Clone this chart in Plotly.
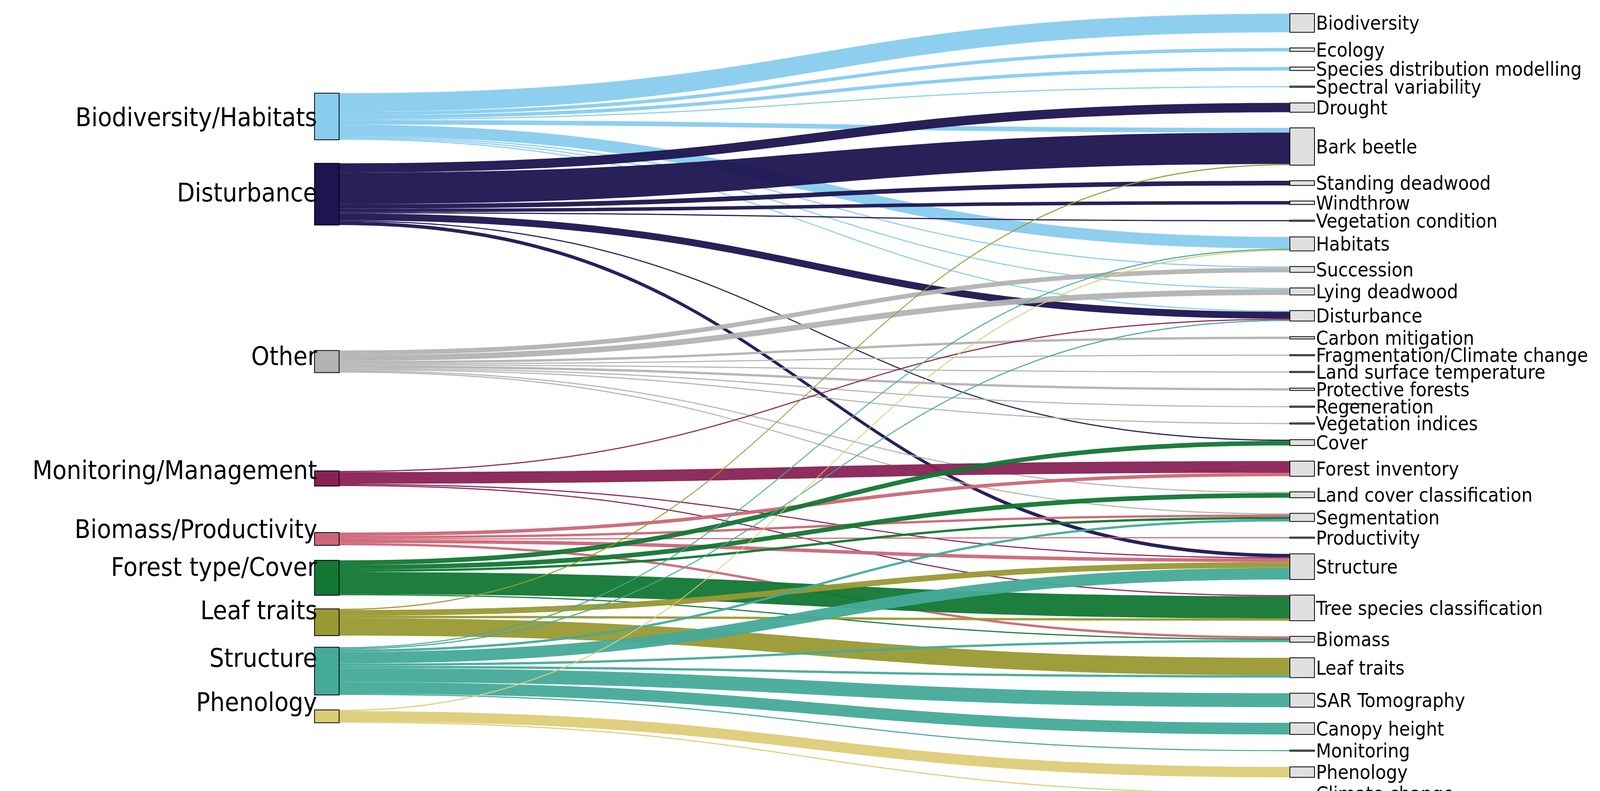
import plotly.graph_objects as go

# ---------- data ----------
left_nodes = ["Biodiversity/Habitats", "Disturbance", "Other", "Monitoring/Management",
              "Biomass/Productivity", "Forest type/Cover", "Leaf traits", "Structure", "Phenology"]
left_colors = ["#88CCEE", "#1E1450", "#B3B3B3", "#882255", "#CC6677",
               "#117733", "#999933", "#44AA99", "#DDCC77"]

right_nodes = ["Biodiversity", "Ecology", "Species distribution modelling", "Spectral variability",
               "Drought", "Bark beetle", "Standing deadwood", "Windthrow", "Vegetation condition",
               "Habitats", "Succession", "Lying deadwood", "Disturbance", "Carbon mitigation",
               "Fragmentation/Climate change", "Land surface temperature", "Protective forests",
               "Regeneration", "Vegetation indices", "Cover", "Forest inventory",
               "Land cover classification", "Segmentation", "Productivity", "Structure",
               "Tree species classification", "Biomass", "Leaf traits", "SAR Tomography",
               "Canopy height", "Monitoring", "Phenology", "Climate change"]

link_source = [
    "Biodiversity/Habitats"] * 9 + [
    "Disturbance"] * 8 + [
    "Other"] * 10 + [
    "Monitoring/Management"] * 4 + [
    "Biomass/Productivity"] * 5 + [
    "Forest type/Cover"] * 5 + [
    "Leaf traits"] * 4 + [
    "Structure"] * 9 + [
    "Phenology"] * 3
link_target = [
    # Biodiversity/Habitats
    "Biodiversity", "Ecology", "Species distribution modelling", "Spectral variability",
    "Bark beetle", "Habitats", "Succession", "Lying deadwood", "Disturbance",
    # Disturbance
    "Drought", "Bark beetle", "Standing deadwood", "Windthrow", "Vegetation condition",
    "Disturbance", "Cover", "Structure",
    # Other
    "Succession", "Lying deadwood", "Carbon mitigation", "Fragmentation/Climate change",
    "Land surface temperature", "Protective forests", "Regeneration", "Vegetation indices",
    "Land cover classification", "Segmentation",
    # Monitoring/Management
    "Disturbance", "Forest inventory", "Structure", "Tree species classification",
    # Biomass/Productivity
    "Forest inventory", "Segmentation", "Productivity", "Structure", "Biomass",
    # Forest type/Cover
    "Cover", "Land cover classification", "Segmentation", "Tree species classification", "Biomass",
    # Leaf traits
    "Bark beetle", "Structure", "Tree species classification", "Leaf traits",
    # Structure
    "Habitats", "Disturbance", "Segmentation", "Structure", "Biomass", "Leaf traits",
    "SAR Tomography", "Canopy height", "Monitoring",
    # Phenology
    "Habitats", "Phenology", "Climate change",
]
link_value = [
    16, 3, 3, 1, 4, 10, 1, 1, 1,
    8, 27, 4, 3, 1, 6, 1, 3,
    4, 5, 2, 1, 1, 2, 1, 1, 1, 1,
    1, 10, 1, 1,
    3, 2, 1, 3, 2,
    4, 4, 2, 19, 1,
    1, 5, 2, 15,
    1, 1, 2, 10, 2, 2, 12, 10, 1,
    1, 9, 1,
]

# ---------- layout helpers ----------
W, H = 4233, 2026
top_in, span_in = 27, 1999
pad = 40
FONT = "DejaVu Sans Condensed, DejaVu Sans"

nL, nR = len(left_nodes), len(right_nodes)
dummy = nL + nR  # invisible node so that right labels sit to the right of their boxes
src = [left_nodes.index(s) for s in link_source]
tgt = [nL + right_nodes.index(t) for t in link_target]
vals = list(link_value)
colors = []
for s in link_source:
    hx = left_colors[left_nodes.index(s)].lstrip("#")
    colors.append("rgba(%d,%d,%d,0.95)" % (int(hx[0:2], 16), int(hx[2:4], 16), int(hx[4:6], 16)))
for i in range(nR):
    src.append(nL + i)
    tgt.append(dummy)
    vals.append(0.0001)
    colors.append("rgba(0,0,0,0)")

right_tot = [sum(v for t, v in zip(link_target, link_value) if t == n) for n in right_nodes]
k = (span_in - (nR - 1) * pad) / sum(right_tot)
right_y = []
acc = 0
for v in right_tot:
    right_y.append((acc + v * k / 2) / span_in)
    acc += v * k + pad

left_center_px = [292, 486, 904, 1196, 1347, 1444, 1555, 1677, 1790]
left_y = [((p - 8.9) / 0.975 - top_in) / span_in for p in left_center_px]

fig = go.Figure(go.Sankey(
    arrangement="fixed",
    domain=dict(x=[826 / W, 3471 / W], y=[1 - (top_in + span_in) / H, 1 - top_in / H]),
    node=dict(
        label=[""] * nL + right_nodes + [""],
        color=left_colors + ["#E0E0E0"] * nR + ["rgba(0,0,0,0)"],
        line=dict(color=["#8C8C8C"] * (nL + nR) + ["rgba(0,0,0,0)"], width=2),
        thickness=63,
        pad=pad,
        x=[0.001] * nL + [0.945] * nR + [0.999],
        y=left_y + right_y + [0.5],
        hoverinfo="skip",
    ),
    link=dict(source=src, target=tgt, value=vals, color=colors, hoverinfo="skip"),
    textfont=dict(family=FONT, size=50, color="black"),
))

for name, p in zip(left_nodes, left_center_px):
    fig.add_annotation(x=806 / W, y=1 - p / H, xref="paper", yref="paper",
                       text=name, showarrow=False, xanchor="right", yanchor="middle",
                       font=dict(family=FONT, size=66, color="black"))

fig.update_layout(width=W, height=H, margin=dict(l=0, r=0, t=0, b=0),
                  paper_bgcolor="white", plot_bgcolor="white")
fig.write_html("out.html")
